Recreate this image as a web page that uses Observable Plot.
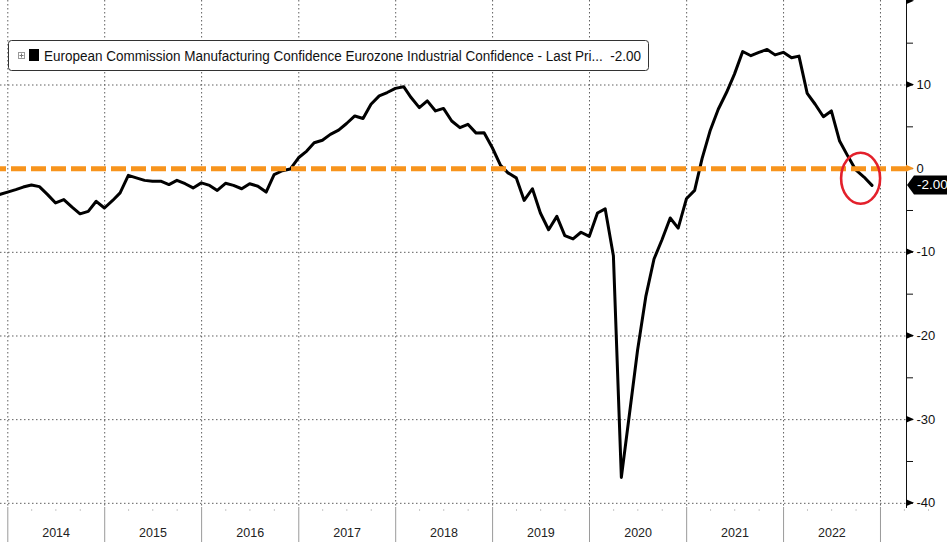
<!DOCTYPE html>
<html><head><meta charset="utf-8">
<script src="https://cdn.jsdelivr.net/npm/d3@7"></script>
<script src="https://cdn.jsdelivr.net/npm/@observablehq/plot@0.6"></script>
<style>html,body{margin:0;padding:0;background:#fff;overflow:hidden}</style>
</head><body><div id="chart"></div>
<script>
// ---- data ----
const seriesName = "European Commission Manufacturing Confidence Eurozone Industrial Confidence - Last Pri...";
const lastLabel = "-2.00";
const v2013 = [-3.1, -2.8]; // Nov, Dec
const v2014 = [-2.5, -2.2, -1.95, -2.15, -3.1, -4.1, -3.7, -4.6, -5.4, -5.1, -3.9, -4.7];
const v2015 = [-3.8, -2.9, -0.8, -1.1, -1.4, -1.5, -1.5, -1.9, -1.4, -1.8, -2.3, -1.7];
const v2016 = [-2.0, -2.6, -1.75, -2.0, -2.4, -1.8, -2.1, -2.8, -0.7, -0.25, -0.05, 1.3];
const v2017 = [2.1, 3.1, 3.4, 4.1, 4.6, 5.4, 6.3, 6.0, 7.7, 8.7, 9.1, 9.6];
const v2018 = [9.8, 8.5, 7.3, 8.1, 6.9, 7.2, 5.7, 4.9, 5.3, 4.25, 4.3, 2.5];
const v2019 = [0.4, -0.5, -1.1, -3.8, -2.4, -5.3, -7.3, -5.7, -8.0, -8.4, -7.6, -8.1];
const v2020 = [-5.3, -4.8, -10.4, -36.9, -29.2, -21.7, -15.3, -10.8, -8.5, -5.9, -7.1, -3.6];
const v2021 = [-2.6, 1.2, 4.6, 7.1, 9.1, 11.3, 14.0, 13.5, 13.9, 14.25, 13.6, 13.9];
const v2022 = [13.25, 13.45, 9.0, 7.7, 6.2, 6.9, 3.3, 1.5, -0.15, -1.0, -2.0];
const yearBlocks = [[2013, 11, v2013], [2014, 1, v2014], [2015, 1, v2015], [2016, 1, v2016], [2017, 1, v2017],
                    [2018, 1, v2018], [2019, 1, v2019], [2020, 1, v2020], [2021, 1, v2021], [2022, 1, v2022]];
const yearLabels = ["2014", "2015", "2016", "2017", "2018", "2019", "2020", "2021", "2022"];
const yearBounds = [2014, 2015, 2016, 2017, 2018, 2019, 2020, 2021, 2022, 2023];
const yTicks = [-40, -35, -30, -25, -20, -15, -10, -5, 0, 5, 10, 15];
const yMajor = [-40, -30, -20, -10, 0, 10, 20];
const yGrid = [-40, -30, -20, -10, 10];
const refLevel = [0];
const circleNote = {date: "2022-10-20", value: -1.2};

// ---- build table (month-end dates) ----
const data = yearBlocks.flatMap(([yr, m0, vals]) =>
  vals.map((v, i) => ({date: new Date(Date.UTC(yr, m0 + i, 0)), value: v})));
const boundDates = yearBounds.map(y => new Date(Date.UTC(y, 0, 1)));
const labelDates = yearLabels.map(s => new Date(Date.UTC(+s, 6, 2)));
const quarterDates = yearBounds.flatMap(y => [3, 6, 9].map(m => new Date(Date.UTC(y, m, 1))));
const xDomain = [new Date(Date.UTC(2013, 11, 4, 12)), new Date(Date.UTC(2023, 3, 9))];
const yDomain = [-40.5, 20.1];
const orange = "#f7941d";
const gridStyle = {stroke: "#5f5f5f", strokeDasharray: "1.5,2.5", strokeWidth: 1};

const svg = Plot.plot({
  width: 947, height: 542,
  marginTop: 0, marginRight: 41, marginBottom: 35, marginLeft: 0,
  style: {background: "#fff", fontFamily: "'Liberation Sans', Arial, sans-serif", fontSize: "13px", color: "#111", overflow: "visible"},
  x: {type: "utc", domain: xDomain, axis: null},
  y: {domain: yDomain, axis: "right", ticks: yTicks, tickSize: 6, tickPadding: 4,
      tickFormat: d => d % 10 === 0 ? String(d) : "", line: true, label: null},
  marks: [
    Plot.ruleX(boundDates, gridStyle),
    Plot.ruleY(yGrid, gridStyle),
    Plot.ruleX(boundDates, {stroke: "#9a9a9a", insetTop: 507, insetBottom: -35}),
    Plot.ruleX(quarterDates, {stroke: "#c8c8c8", insetTop: 509, insetBottom: -4}),
    Plot.text(yearLabels, {x: (d, i) => labelDates[i], text: d => d, frameAnchor: "bottom", dy: 29,
      fontSize: 12.5, fill: "#222"}),
    Plot.line(data, {x: "date", y: "value", stroke: "#000", strokeWidth: 3, strokeLinejoin: "round"}),
    Plot.ruleY(refLevel, {stroke: orange, strokeWidth: 5, strokeDasharray: "15,5", strokeDashoffset: 9})
  ]
});

// ---- annotations positioned through the plot's own scales ----
const xs = svg.scale("x"), ys = svg.scale("y");
const sx = d3.scaleUtc(xs.domain, xs.range), sy = d3.scaleLinear(ys.domain, ys.range);
const root = d3.select(svg);
const last = data[data.length - 1];
const ax = xs.range[1];

// triangular major tick markers on the right axis
root.append("g").selectAll("path").data(yMajor).join("path")
  .attr("d", d => `M${ax},${sy(d) - 3.5} L${ax + 8},${sy(d)} L${ax},${sy(d) + 3.5} Z`)
  .attr("fill", d => d === 0 ? orange : "#000");

// red circle
root.append("ellipse")
  .attr("cx", sx(new Date(circleNote.date))).attr("cy", sy(circleNote.value))
  .attr("rx", 19.5).attr("ry", 25.5)
  .attr("fill", "none").attr("stroke", "#e3202b").attr("stroke-width", 2.6);

// last-value tag
const ty = sy(last.value);
root.append("path")
  .attr("d", `M${ax + 1},${ty} L${ax + 8},${ty - 9.5} L${ax + 46},${ty - 9.5} L${ax + 46},${ty + 9.5} L${ax + 8},${ty + 9.5} Z`)
  .attr("fill", "#000");
root.append("text").attr("x", ax + 11).attr("y", ty + 4.5).attr("text-anchor", "start")
  .attr("fill", "#fff").attr("font-size", 13.5).text(lastLabel);

// legend box
const lg = root.append("g").attr("text-anchor", "start");
lg.append("rect").attr("x", 8.5).attr("y", 40.5).attr("width", 640).attr("height", 30).attr("rx", 3)
  .attr("fill", "#fff").attr("stroke", "#333").attr("stroke-width", 1);
lg.append("rect").attr("x", 18.5).attr("y", 52.5).attr("width", 6).attr("height", 6)
  .attr("fill", "#fff").attr("stroke", "#999");
lg.append("path").attr("d", "M19.5,55.5 H23.5 M21.5,53.5 V57.5").attr("stroke", "#777");
lg.append("rect").attr("x", 29).attr("y", 49).attr("width", 10).attr("height", 12).attr("fill", "#000");
lg.append("text").attr("x", 44).attr("y", 61).attr("font-size", 14).attr("fill", "#111")
  .attr("textLength", 597).attr("lengthAdjust", "spacingAndGlyphs")
  .text(seriesName + "\u00A0\u00A0" + lastLabel);

document.getElementById("chart").appendChild(svg);
</script></body></html>
